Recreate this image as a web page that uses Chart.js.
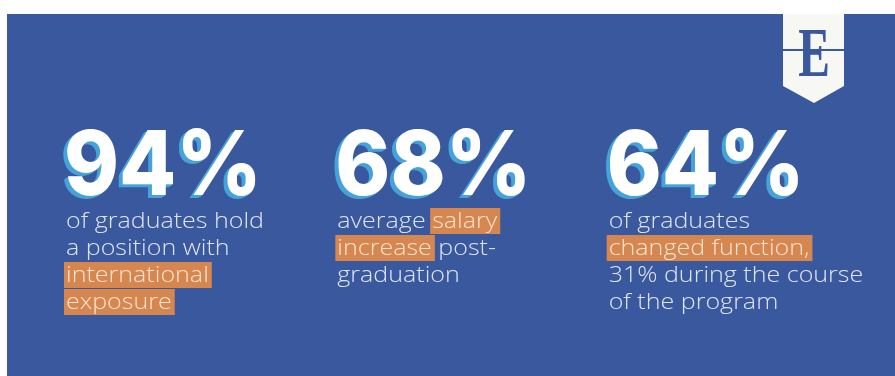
<!DOCTYPE html>
<html>
<head>
<meta charset="utf-8">
<script src="https://cdn.jsdelivr.net/npm/chart.js@4.4.1/dist/chart.umd.min.js"></script>
<style>
    html, body { margin: 0; padding: 0; background: #fff; }
    #wrap { width: 895px; height: 376px; }
</style>
</head>
<body>
<div id="wrap"><canvas id="statChart" width="895" height="376"></canvas></div>
<script>
// data
const categories = ["international exposure", "salary increase", "changed function"];
const values = [94, 68, 64];
// [word] = orange highlight
const captions = [
    ["of graduates hold", "a position with", "[international]", "[exposure]"],
    ["average [salary]", "[increase] post-", "graduation"],
    ["of graduates", "[changed function,]", "31% during the course", "of the program"],
];

const BG = "#3a589d";
const ORANGE = "#d6864f";
const SHADOW = "#44a3da";
const NUM_FONT = "800 90px Inter";
const CAP_FONT = "300 22px 'Open Sans'";

function drawNumber(ctx, txt, x, y) {
    ctx.save();
    ctx.font = NUM_FONT;
    ctx.textBaseline = "alphabetic";
    const sx = 198 / ctx.measureText("94%").width;
    // extrusion down-left
    ctx.fillStyle = SHADOW;
    for (let k = 1; k <= 4; k++) {
        ctx.save();
        ctx.translate(x - k, y + k * 0.8);
        ctx.scale(sx, 1);
        ctx.fillText(txt, 0, 0);
        ctx.restore();
    }
    ctx.fillStyle = "#ffffff";
    ctx.translate(x, y);
    ctx.scale(sx, 1);
    ctx.fillText(txt, 0, 0);
    ctx.restore();
}

function drawCaption(ctx, lines, x, y) {
    ctx.save();
    ctx.font = CAP_FONT;
    ctx.textBaseline = "alphabetic";
    const sx = 198 / ctx.measureText("of graduates hold").width;
    lines.forEach((line, li) => {
        const base = y + li * 27;
        let cx = x;
        const parts = line.split(/(\[[^\]]+\])/).filter((p) => p.length);
        parts.forEach((p) => {
            const hi = p.startsWith("[");
            const t = hi ? p.slice(1, -1) : p;
            const w = ctx.measureText(t).width * sx;
            if (hi) {
                ctx.fillStyle = ORANGE;
                ctx.fillRect(cx - 2, base - 20, w + 5, 26);
                ctx.fillStyle = "rgba(252,232,218,0.95)";
            } else {
                ctx.fillStyle = "#dfe5f0";
            }
            ctx.save();
            ctx.translate(cx, base);
            ctx.scale(sx, 1);
            ctx.fillText(t, 0, 0);
            ctx.restore();
            cx += w;
        });
    });
    ctx.restore();
}

function drawLogo(ctx) {
    ctx.save();
    ctx.fillStyle = "#f7f7f4";
    ctx.beginPath();
    ctx.moveTo(783, 14);
    ctx.lineTo(844, 14);
    ctx.lineTo(844, 86);
    ctx.lineTo(814, 103);
    ctx.lineTo(783, 86);
    ctx.closePath();
    ctx.fill();
    ctx.fillStyle = BG;
    ctx.font = "bold 70px 'Liberation Serif'";
    ctx.textAlign = "center";
    ctx.save();
    ctx.translate(814, 76);
    ctx.scale(0.68, 1);
    ctx.fillText("E", 0, 0);
    ctx.restore();
    ctx.fillRect(783, 49, 61, 2);
    ctx.restore();
}

const infographic = {
    id: "infographic",
    beforeDraw(chart) {
        const ctx = chart.ctx;
        ctx.save();
        ctx.fillStyle = "#fff";
        ctx.fillRect(0, 0, chart.width, chart.height);
        ctx.fillStyle = BG;
        ctx.fillRect(7, 14, chart.width - 7, chart.height - 14);
        ctx.restore();
    },
    afterDatasetsDraw(chart) {
        const ctx = chart.ctx;
        const xs = chart.scales.x;
        const band = (xs.right - xs.left) / chart.data.labels.length;
        chart.getDatasetMeta(0).data.forEach((bar, i) => {
            const left = bar.x - band / 2;
            drawNumber(ctx, values[i] + "%", left, 195);
            drawCaption(ctx, captions[i], left + 2, 228);
        });
        drawLogo(ctx);
    },
};

const ctx = document.getElementById("statChart").getContext("2d");
new Chart(ctx, {
    type: "bar",
    data: {
        labels: categories,
        datasets: [
            {
                data: values,
                backgroundColor: "rgba(0,0,0,0)",
                borderWidth: 0,
            },
        ],
    },
    options: {
        responsive: false,
        animation: false,
        layout: { padding: { left: 64, right: 17, top: 0, bottom: 0 } },
        scales: {
            x: { display: false },
            y: { display: false, min: 0, max: 100 },
        },
        plugins: { legend: { display: false }, tooltip: { enabled: false } },
    },
    plugins: [infographic],
});
</script>
</body>
</html>
